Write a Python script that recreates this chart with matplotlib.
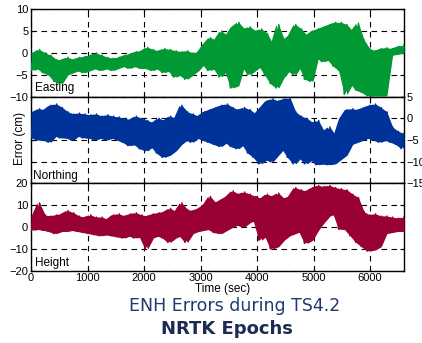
import numpy as np
import matplotlib
matplotlib.use("Agg")
import matplotlib.pyplot as plt

east_hi = [0.0, 0.8, 0.0, -0.5, -1.5, -1.5, -1.0, -1.5, -1.0, -0.8,
           -0.5, 0.0, -0.5, -1.0, -1.2, -1.0, -0.5, -0.2, 0.3, 0.5,
           1.3, 0.8, 0.5, 1.0, 0.8, 0.5, 0.3, 0.5, 0.0, 0.2,
           2.0, 3.5, 3.0, 5.0, 4.0, 6.0, 7.0, 5.5, 6.0, 5.0,
           5.5, 4.5, 2.0, 6.5, 3.0, 4.0, 6.5, 5.5, 4.0, 5.0,
           5.5, 6.0, 6.5, 7.0, 7.0, 6.5, 5.0, 6.8, 3.0, 1.0,
           0.5, 1.0, 1.2, 1.0, 1.5, 1.8]
east_lo = [-4, -3.5, -4.5, -5, -6.5, -7, -5, -4.5, -4, -4.5,
           -4, -3.5, -4, -3.5, -4, -3.5, -3, -3.5, -3, -3.5,
           -3.5, -4, -3.5, -4.5, -4, -5.5, -5, -6, -5, -4,
           -2.5, -4, -3.5, -5.5, -4, -8, -7.5, -3, -5, -4,
           -3, -5, -7, -8, -5.5, -4, -5, -3, -6, -6.5,
           -1, -2, -1.5, -3, -4, -9.5, -7, -8.5, -9, -9.8,
           -9.8, -9.8, -9.8, -0.5, -0.3, 0]

north_hi = [1.5, 2.2, 2, 3, 3.3, 2.5, 1.5, 1, 1.2, 1,
            0.8, 1, 0.5, 0.8, 0.5, 0.3, 0, -0.3, 0.5, 0,
            -0.5, -1, 0, -0.5, 0.5, 0, 3, 1.5, 1, 0.5,
            1.5, 2, 2.5, 3, 3.3, 2.5, 2, 2.5, 2, 1,
            2.5, 4, 4.5, 4, 4.5, 4.7, 1.5, 0.5, 0, -1,
            -0.5, -3, -2, -4, 0, 2, 2.2, 2, 2.5, 3,
            3.3, 2.5, 1.5, -2, -3, -3.5]
north_lo = [-4.5, -5, -5, -5.5, -4, -4.5, -4.5, -5, -4, -4.5,
            -4.5, -5, -4.5, -5, -4.5, -5, -5.5, -6.3, -6, -7,
            -7.5, -6.5, -8, -9, -8.5, -7.5, -6, -5, -5.5, -4.5,
            -5, -5.5, -6, -6.5, -5.5, -6.5, -7, -6, -8, -9,
            -10.5, -9.5, -10, -8.5, -7, -9, -10.5, -9, -10.5, -9.5,
            -10.7, -10.5, -10.7, -10.5, -9.5, -8.5, -6, -5.5, -5, -4.5,
            -5, -5.5, -5, -5.5, -6, -7]

height_hi = [5, 11, 5.5, 5, 5.5, 6, 7.5, 6.5, 5, 4.5,
             5.5, 4.5, 4.5, 3.5, 5.5, 6, 5, 6, 6.5, 5.5,
             5, 6, 6.5, 7, 8.5, 7, 11, 8, 7.5, 8.5,
             10, 14, 11, 12.5, 14, 16.5, 15, 16, 15, 14,
             13, 15, 14, 15.5, 13, 14, 18, 17, 16.5, 18,
             19, 18.5, 19, 18, 17.5, 17, 15, 13.5, 7, 5.5,
             6, 5, 5, 4.5, 4, 4.5]
height_lo = [-1.5, -1, -1.5, -2, -3, -2, -2, -1.5, -2, -2.5,
             -3, -3.5, -4, -3.5, -4, -4.5, -5, -4, -5, -4.5,
             -10, -5, -4, -5, -7, -5, -4, -7, -3, -2,
             -1.5, -1, -2.5, -3, -1.5, 0, 1, 0, 2, 3,
             -6, -4, -10, -9, -6, -4, -3, -2, -7.5, -6,
             -1.5, 2, 5, 6, -1, -1, -4, -7, -9, -11,
             -10.5, -9, -3, -2.5, -2, -2]

panels = [
    ("Easting", east_lo, east_hi, "#009933", (-10, 10), [-10, -5, 0, 5, 10]),
    ("Northing", north_lo, north_hi, "#003399", (-15, 5), [-15, -10, -5, 0, 5]),
    ("Height", height_lo, height_hi, "#990033", (-20, 20), [-20, -10, 0, 10, 20]),
]

plt.rcParams["font.family"] = ["Liberation Sans", "DejaVu Sans"]

fig = plt.figure(figsize=(4.22, 3.43), dpi=100)
boxes = [(0.7181, 0.2548), (0.4656, 0.2525), (0.2108, 0.2548)]

for i, (name, lo, hi, color, ylim, yticks) in enumerate(panels):
    ax = fig.add_axes([0.0735, boxes[i][0], 0.8839, boxes[i][1]])
    y = np.ravel(np.column_stack([lo, hi]))
    t = np.linspace(0, 6600, len(y))
    # dense band between the bin lows and highs, zig-zag trace on top for the spikes
    ax.fill_between(t[::2], lo, hi, color=color, lw=0, zorder=3)
    ax.fill_between(t[1::2], lo, hi, color=color, lw=0, zorder=3)
    ax.plot(t, y, color=color, lw=1.1, zorder=3)

    ax.set_xlim(0, 6600)
    ax.set_ylim(*ylim)
    ax.set_xticks(range(0, 7000, 1000))
    ax.set_yticks(yticks)
    ax.tick_params(direction="in", length=3, width=0.8, labelsize=8, pad=2,
                   top=True, right=True)
    ax.grid(True, color="black", ls=(0, (5, 4)), lw=0.8, zorder=1)
    for s in ax.spines.values():
        s.set_linewidth(1.0)
    if i < 2:
        ax.tick_params(labelbottom=False)
    if i == 1:
        ax.tick_params(labelleft=False, labelright=True)
    ax.text(0.012 if i != 1 else 0.006, 0.1 if i == 0 else 0.088, name,
            transform=ax.transAxes, fontsize=8.5, va="center", ha="left", zorder=5)

fig.text(0.047, 1 - 138 / 343, "Error (cm)", rotation=90, fontsize=8.5,
         ha="center", va="center")
fig.text(0.528, 0.157, "Time (sec)", fontsize=8.5, ha="center", va="center")

fig.text(0.557, 0.108, "ENH Errors during TS4.2", family="DejaVu Sans",
         fontsize=12.5, color="#1f3a6e", ha="center", va="center")
fig.text(0.538, 0.041, "NRTK Epochs", family="DejaVu Sans", fontweight="bold",
         fontsize=13, color="#1b2c52", ha="center", va="center")

fig.savefig("out.png", dpi=100)
